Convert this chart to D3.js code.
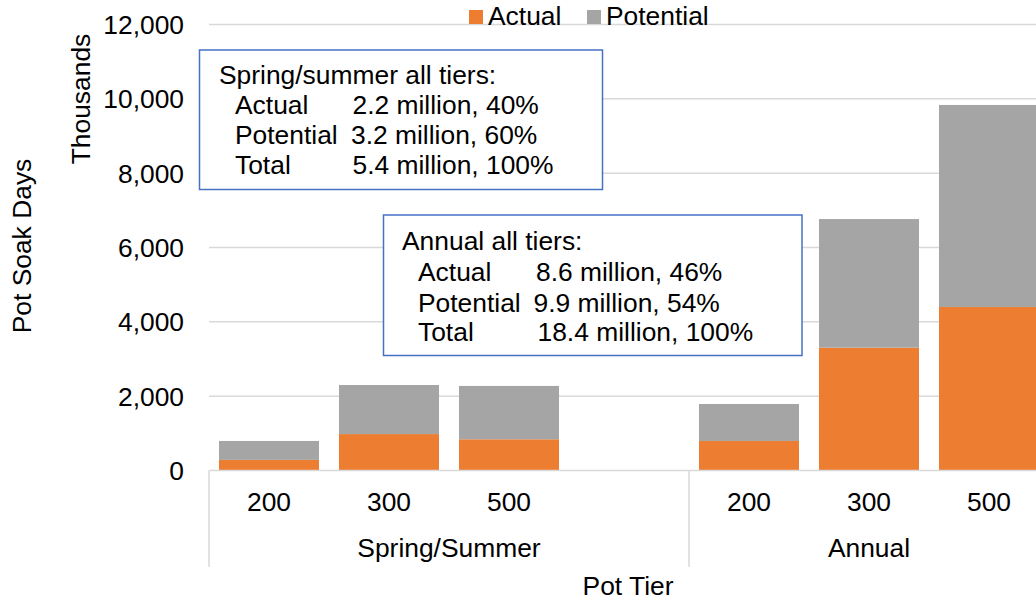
<!DOCTYPE html>
<html>
<head>
<meta charset="utf-8">
<script src="https://cdn.jsdelivr.net/npm/d3@7"></script>
<style>
  html, body { margin: 0; padding: 0; background: #ffffff; }
  svg { display: block; }
  text { font-family: "Liberation Sans", Arial, sans-serif; fill: #000; }
</style>
</head>
<body>
<svg id="chart" width="1036" height="600"></svg>
<script>
// ---- Data ----
const groups = ["Spring/Summer", "Annual"];
const tiers = ["200", "300", "500"];
const springActual = [285, 980, 840];
const springPotential = [510, 1320, 1435];
const annualActual = [795, 3305, 4400];
const annualPotential = [995, 3460, 5435];
const yTicks = [0, 2000, 4000, 6000, 8000, 10000, 12000];
const seriesNames = ["Actual", "Potential"];
const colors = ["#ed7d31", "#a5a5a5"];
const yTitle = "Pot Soak Days";
const yUnit = "Thousands";
const xTitle = "Pot Tier";
const box1Lines = [
  ["Spring/summer all tiers:"],
  ["Actual", "2.2 million, 40%"],
  ["Potential", "3.2 million, 60%"],
  ["Total", "5.4 million, 100%"]
];
const box2Lines = [
  ["Annual all tiers:"],
  ["Actual", "8.6 million, 46%"],
  ["Potential", "9.9 million, 54%"],
  ["Total", "18.4 million, 100%"]
];

// slots: spring group has an empty 4th category
const slots = [];
tiers.forEach((t, i) => slots.push({ key: "S" + t, group: groups[0], tier: t, actual: springActual[i], potential: springPotential[i] }));
slots.push({ key: "Sblank", group: groups[0], tier: "", actual: null, potential: null });
tiers.forEach((t, i) => slots.push({ key: "A" + t, group: groups[1], tier: t, actual: annualActual[i], potential: annualPotential[i] }));

const svg = d3.select("#chart");
const FONT = 26.4;

const x = d3.scaleBand().domain(slots.map(d => d.key)).range([209, 1049])
  .paddingInner(1 / 6).paddingOuter(1 / 12);
const y = d3.scaleLinear().domain([0, 12000]).range([470.5, 24.5]);

// y axis labels
const yAxis = d3.axisLeft(y).tickValues(yTicks).tickFormat(d3.format(",")).tickSize(0).tickPadding(25);
const gAxis = svg.append("g").attr("transform", "translate(209,0)").call(yAxis);
gAxis.select(".domain").remove();
gAxis.selectAll("text").attr("font-size", FONT).attr("dy", "0.34em")
  .style("font-family", '"Liberation Sans", Arial, sans-serif').attr("fill", "#000");

// gridlines
svg.append("g").selectAll("line").data(yTicks.filter(d => d > 0)).join("line")
  .attr("x1", 209).attr("x2", 1049)
  .attr("y1", d => y(d)).attr("y2", d => y(d))
  .attr("stroke", "#d9d9d9").attr("stroke-width", 1.5);

// stacked bars
const stackData = slots.filter(d => d.actual !== null);
const stack = d3.stack().keys(["actual", "potential"])(stackData);
svg.append("g").selectAll("g").data(stack).join("g")
  .attr("fill", (d, i) => colors[i])
  .selectAll("rect").data(d => d).join("rect")
  .attr("x", d => x(d.data.key))
  .attr("width", x.bandwidth())
  .attr("y", d => y(d[1]))
  .attr("height", d => y(d[0]) - y(d[1]));

// category axis line + group separators
svg.append("line").attr("x1", 209).attr("x2", 1049).attr("y1", y(0)).attr("y2", y(0))
  .attr("stroke", "#d9d9d9").attr("stroke-width", 1.5);
const groupBounds = [
  [x("S200") - x.step() * x.paddingOuter(), x("Sblank") + x.bandwidth() + x.step() * x.paddingInner() / 2],
  [x("A200") - x.step() * x.paddingInner() / 2, x("A500") + x.bandwidth() + x.step() * x.paddingInner() / 2]
];
svg.append("g").selectAll("line").data([groupBounds[0][0], groupBounds[1][0], groupBounds[1][1]]).join("line")
  .attr("x1", d => d).attr("x2", d => d)
  .attr("y1", y(0)).attr("y2", 567)
  .attr("stroke", "#d9d9d9").attr("stroke-width", 1.5);

// tier labels
svg.append("g").selectAll("text").data(slots.filter(d => d.tier)).join("text")
  .attr("x", d => x(d.key) + x.bandwidth() / 2).attr("y", 511)
  .attr("text-anchor", "middle").attr("font-size", FONT).text(d => d.tier);

// group labels
svg.append("g").selectAll("text").data(groups).join("text")
  .attr("x", (d, i) => (groupBounds[i][0] + groupBounds[i][1]) / 2).attr("y", 557)
  .attr("text-anchor", "middle").attr("font-size", FONT).text(d => d);

// axis titles
svg.append("text").attr("x", 628).attr("y", 595).attr("text-anchor", "middle")
  .attr("font-size", FONT).text(xTitle);
svg.append("text").attr("transform", "translate(31,246) rotate(-90)").attr("text-anchor", "middle")
  .attr("font-size", FONT).text(yTitle);
svg.append("text").attr("transform", "translate(90,99) rotate(-90)").attr("text-anchor", "middle")
  .attr("font-size", FONT).text(yUnit);

// legend
const leg = svg.append("g");
const legX = [469, 587];
seriesNames.forEach((n, i) => {
  leg.append("rect").attr("x", legX[i]).attr("y", 10).attr("width", 14).attr("height", 14).attr("fill", colors[i]);
  leg.append("text").attr("x", legX[i] + 19).attr("y", 25).attr("font-size", FONT).text(n);
});

// text boxes
function textBox(lines, bx, by, bw, bh, tx, ty, indentX, valX) {
  const g = svg.append("g");
  g.append("rect").attr("x", bx).attr("y", by).attr("width", bw).attr("height", bh)
    .attr("fill", "#fff").attr("stroke", "#4472c4").attr("stroke-width", 1.5);
  lines.forEach((l, i) => {
    if (l.length === 1) {
      g.append("text").attr("x", tx).attr("y", ty[i]).attr("font-size", FONT).text(l[0]);
    } else {
      g.append("text").attr("x", indentX).attr("y", ty[i]).attr("font-size", FONT).text(l[0]);
      g.append("text").attr("x", valX[i]).attr("y", ty[i]).attr("font-size", FONT).text(l[1]);
    }
  });
}
textBox(box1Lines, 199.5, 50, 403, 139.5, 219, [84, 114, 144, 174], 235, [0, 352.5, 351, 352.5]);
textBox(box2Lines, 383.5, 215, 418.5, 140.5, 402, [250, 281, 311.5, 341], 418, [0, 536, 533.5, 537.5]);
</script>
</body>
</html>
